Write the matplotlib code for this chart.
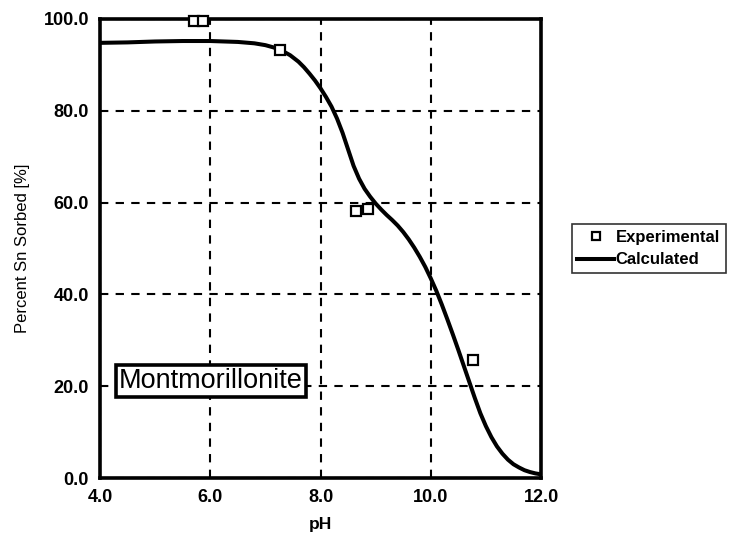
import matplotlib.pyplot as plt
from matplotlib.lines import Line2D

plt.rcParams['font.family'] = ['Liberation Sans', 'DejaVu Sans']

# Calculated sorption curve (pH vs percent Sn sorbed)
ph_calc = [4.0, 4.5, 5.0, 5.5, 6.0, 6.5, 6.8, 7.0, 7.15, 7.3, 7.45, 7.6, 7.7, 7.8,
           7.9, 8.0, 8.1, 8.2, 8.3, 8.4, 8.5, 8.6, 8.7, 8.8, 8.9, 9.0, 9.1, 9.2,
           9.3, 9.4, 9.5, 9.6, 9.7, 9.8, 9.9, 10.0, 10.1, 10.2, 10.3, 10.4, 10.5,
           10.6, 10.7, 10.8, 10.9, 11.0, 11.1, 11.2, 11.3, 11.4, 11.5, 11.6, 11.7,
           11.8, 11.9, 12.0]
pct_calc = [94.8, 94.9, 95.1, 95.2, 95.2, 95.0, 94.7, 94.3, 93.8, 93.1, 92.1, 90.7,
            89.5, 88.1, 86.6, 84.9, 83.0, 80.9, 78.3, 75.2, 71.6, 68.0, 65.2, 63.0,
            61.3, 59.8, 58.5, 57.3, 56.2, 55.0, 53.6, 52.0, 50.2, 48.2, 46.0, 43.5,
            40.8, 37.8, 34.6, 31.3, 27.9, 24.4, 20.9, 17.4, 14.1, 11.3, 8.9, 6.9,
            5.3, 4.0, 3.0, 2.3, 1.7, 1.3, 1.0, 0.8]

# Experimental points
ph_exp = [5.70, 5.87, 7.27, 8.65, 8.86, 10.76]
pct_exp = [99.5, 99.5, 93.2, 58.2, 58.6, 25.7]

x_ticks = [4.0, 6.0, 8.0, 10.0, 12.0]
y_ticks = [0.0, 20.0, 40.0, 60.0, 80.0, 100.0]

fig = plt.figure(figsize=(7.31, 5.44), dpi=100)
ax = fig.add_axes([0.1368, 0.1213, 0.6033, 0.8438])

ax.plot(ph_calc, pct_calc, color='black', lw=2.9, solid_capstyle='round',
        solid_joinstyle='round', zorder=3)
ax.plot(ph_exp, pct_exp, linestyle='none', marker='s', markersize=7.5,
        markerfacecolor='white', markeredgecolor='black', markeredgewidth=1.6,
        clip_on=False, zorder=4)

ax.set_xlim(4, 12)
ax.set_ylim(0, 100)
ax.set_xticks(x_ticks)
ax.set_yticks(y_ticks)
ax.set_xticklabels([f'{v:.1f}' for v in x_ticks], fontsize=13, fontweight='bold')
ax.set_yticklabels([f'{v:.1f}' for v in y_ticks], fontsize=13, fontweight='bold')
ax.tick_params(length=0, pad=8)

ax.grid(True, color='black', linestyle=(0, (4, 3.5)), linewidth=1.5)
ax.set_axisbelow(True)
for s in ax.spines.values():
    s.set_linewidth(2.6)
    s.set_color('black')

ax.set_xlabel('pH', fontsize=12.5, fontweight='bold', labelpad=8)
ax.set_ylabel('Percent Sn Sorbed [%]', fontsize=12, labelpad=10)

ax.text(0.252, 0.211, 'Montmorillonite', transform=ax.transAxes, fontsize=19.5,
        ha='center', va='center', zorder=5,
        bbox=dict(boxstyle='square,pad=0.12', facecolor='white', edgecolor='black',
                  linewidth=2.6))

# legend sits outside the axes, to the right
handles = [
    Line2D([], [], linestyle='none', marker='s', markersize=6, markerfacecolor='white',
           markeredgecolor='black', markeredgewidth=1.6),
    Line2D([], [], color='black', lw=2.9),
]
leg = fig.legend(handles, ['Experimental', 'Calculated'], loc='center left',
                 bbox_to_anchor=(0.782, 0.543), frameon=True, fancybox=False,
                 edgecolor='black', handlelength=2.2, handletextpad=0.1,
                 borderpad=0.35, borderaxespad=0, labelspacing=0.45,
                 prop={'size': 12, 'weight': 'bold'})
leg.get_frame().set_linewidth(1.2)

fig.savefig('out.png', dpi=100, facecolor='white')
